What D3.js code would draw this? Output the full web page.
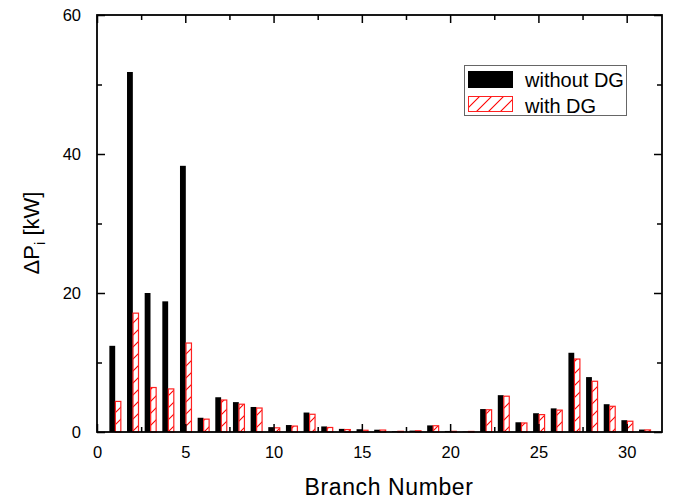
<!DOCTYPE html>
<html>
<head>
<meta charset="utf-8">
<script src="https://cdn.jsdelivr.net/npm/d3@7"></script>
<style>
  body { margin: 0; background: #fff; }
  text { font-family: "Liberation Sans", Arial, sans-serif; fill: #000; }
</style>
</head>
<body>
<div id="graph"></div>
<script>
// data
var branches = d3.range(1, 32);
var withoutDG = [12.4, 51.8, 20.0, 18.8, 38.3, 2.05, 5.0, 4.3, 3.6, 0.7, 1.0, 2.8, 0.8, 0.45, 0.4, 0.33,
    0.1, 0.2, 0.95, 0.15, 0.05, 3.3, 5.3, 1.4, 2.7, 3.4, 11.4, 7.9, 4.0, 1.7, 0.35];
var withDG = [4.4, 17.1, 6.4, 6.2, 12.8, 1.85, 4.6, 4.0, 3.45, 0.6, 0.85, 2.55, 0.65, 0.35, 0.25, 0.28,
    0.1, 0.18, 0.9, 0.1, 0.08, 3.2, 5.15, 1.3, 2.5, 3.15, 10.5, 7.3, 3.7, 1.55, 0.3];
var xMajor = [0, 5, 10, 15, 20, 25, 30];
var xMinor = [2.5, 7.5, 12.5, 17.5, 22.5, 27.5];
var yMajor = [0, 20, 40, 60];
var yMinor = [10, 30, 50];
var seriesNames = ["without DG", "with DG"];

const width = 675;
const height = 499;
var margins = {left: 97, right: 662, top: 15, bottom: 432};

var svg = d3.select("#graph").append("svg")
    .attr("width", width).attr("height", height);

var x = d3.scaleLinear().domain([0, 32]).range([margins.left, margins.right]);
var y = d3.scaleLinear().domain([0, 60]).range([margins.bottom, margins.top]);

// hatch pattern
var defs = svg.append("defs");
var pat = defs.append("pattern")
    .attr("id", "hatch")
    .attr("patternUnits", "userSpaceOnUse")
    .attr("width", 12).attr("height", 12);
pat.append("rect").attr("width", 12).attr("height", 12).attr("fill", "#fff");
pat.append("path")
    .attr("d", "M0,12L12,0M-3,3L3,-3M9,15L15,9")
    .attr("stroke", "#ff0000").attr("stroke-width", 1.1);

var bw = 0.33;

// black bars
svg.append("g").selectAll("rect")
    .data(branches)
    .enter().append("rect")
    .attr("x", function (d) { return x(d - 0.3); })
    .attr("width", x(bw) - x(0))
    .attr("y", function (d, i) { return y(withoutDG[i]); })
    .attr("height", function (d, i) { return y(0) - y(withoutDG[i]); })
    .attr("fill", "#000");

// red hatched bars
svg.append("g").selectAll("rect")
    .data(branches)
    .enter().append("rect")
    .attr("x", function (d) { return x(d + 0.04); })
    .attr("width", x(bw - 0.02) - x(0))
    .attr("y", function (d, i) { return y(withDG[i]); })
    .attr("height", function (d, i) { return y(0) - y(withDG[i]); })
    .attr("fill", "url(#hatch)")
    .attr("stroke", "#ff2020")
    .attr("stroke-width", 1.2);

// axes (ticks inward, on all four sides)
svg.append("g").attr("transform", "translate(0," + margins.bottom + ")")
    .call(d3.axisBottom(x).tickValues(xMajor).tickFormat(d3.format("d")).tickSizeInner(-8).tickSizeOuter(0).tickPadding(14));
svg.append("g").attr("transform", "translate(0," + margins.bottom + ")")
    .call(d3.axisBottom(x).tickValues(xMinor).tickFormat("").tickSizeInner(-5).tickSizeOuter(0));
svg.append("g").attr("transform", "translate(0," + margins.top + ")")
    .call(d3.axisTop(x).tickValues(xMajor).tickFormat("").tickSizeInner(-8).tickSizeOuter(0));
svg.append("g").attr("transform", "translate(0," + margins.top + ")")
    .call(d3.axisTop(x).tickValues(xMinor).tickFormat("").tickSizeInner(-5).tickSizeOuter(0));

svg.append("g").attr("transform", "translate(" + margins.left + ",0)")
    .call(d3.axisLeft(y).tickValues(yMajor).tickFormat(d3.format("d")).tickSizeInner(-8).tickSizeOuter(0).tickPadding(16));
svg.append("g").attr("transform", "translate(" + margins.left + ",0)")
    .call(d3.axisLeft(y).tickValues(yMinor).tickFormat("").tickSizeInner(-5).tickSizeOuter(0));
svg.append("g").attr("transform", "translate(" + margins.right + ",0)")
    .call(d3.axisRight(y).tickValues(yMajor).tickFormat("").tickSizeInner(-8).tickSizeOuter(0));
svg.append("g").attr("transform", "translate(" + margins.right + ",0)")
    .call(d3.axisRight(y).tickValues(yMinor).tickFormat("").tickSizeInner(-5).tickSizeOuter(0));

svg.selectAll(".domain").remove();
svg.selectAll(".tick line").attr("stroke", "#000").attr("stroke-width", 1.5);
svg.selectAll(".tick text").attr("font-size", 16.5).attr("font-family", "Liberation Sans, Arial, sans-serif");

// frame
svg.append("rect")
    .attr("x", margins.left).attr("y", margins.top)
    .attr("width", margins.right - margins.left).attr("height", margins.bottom - margins.top)
    .attr("fill", "none").attr("stroke", "#000").attr("stroke-width", 1.8);

// axis titles
svg.append("text")
    .attr("x", 389).attr("y", 495)
    .attr("text-anchor", "middle").attr("font-size", 23)
    .attr("letter-spacing", 0.6)
    .text("Branch Number");

var yt = svg.append("text")
    .attr("transform", "translate(39,233) rotate(-90)")
    .attr("text-anchor", "middle").attr("font-size", 22);
yt.append("tspan").text("\u0394P");
yt.append("tspan").attr("font-size", 15).attr("dy", 6).text("i");
yt.append("tspan").attr("dy", -6).text(" [kW]");

// legend
var lg = svg.append("g");
lg.append("rect")
    .attr("x", 464.5).attr("y", 65.5).attr("width", 162).attr("height", 50)
    .attr("fill", "#fff").attr("stroke", "#666").attr("stroke-width", 1);
lg.append("rect")
    .attr("x", 468).attr("y", 71).attr("width", 45).attr("height", 17)
    .attr("fill", "#000");
lg.append("rect")
    .attr("x", 468.5).attr("y", 96.5).attr("width", 44).attr("height", 15)
    .attr("fill", "url(#hatch)").attr("stroke", "#ff2020").attr("stroke-width", 1);
lg.selectAll("text.lab")
    .data(seriesNames)
    .enter().append("text")
    .attr("class", "lab")
    .attr("x", 525)
    .attr("y", function (d, i) { return 87 + i * 26; })
    .attr("font-size", 20)
    .text(function (d) { return d; });
</script>
</body>
</html>
